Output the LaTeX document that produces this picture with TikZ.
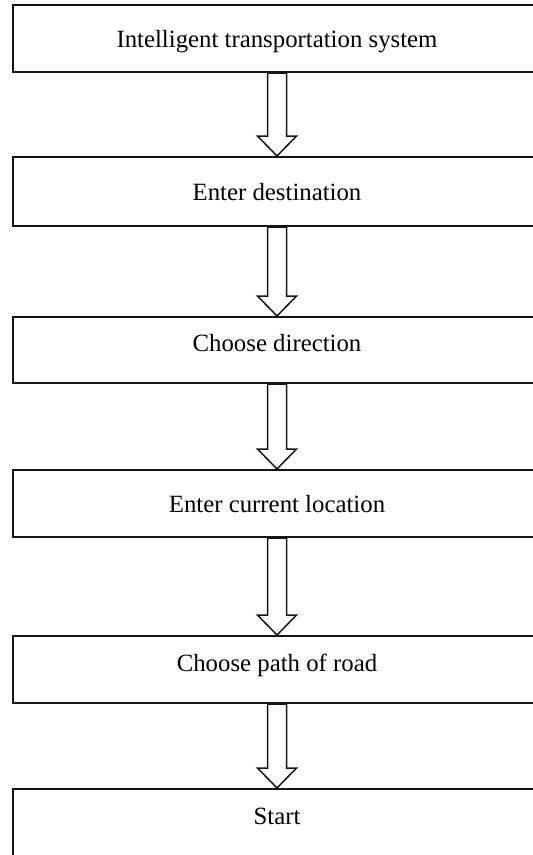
\documentclass[tikz,border=0pt]{standalone}
\usepackage{fontspec}
\setmainfont{Liberation Serif}
\usetikzlibrary{calc}
\definecolor{boxline}{RGB}{20, 20, 20}

\begin{document}
\begin{tikzpicture}[x=1pt, y=-1pt,
		stagebox/.style={draw=boxline, line width=2pt, minimum width=528pt, inner sep=0pt, text height=17pt, text depth=0pt, font=\fontsize{24.8}{30}\selectfont},
		flowarrow/.style={draw=boxline, line width=1.5pt, line join=miter, to path={let \p1=(\tikztostart), \p2=(\tikztotarget) in (\x1-9.5pt,\y1) -- (\x1-9.5pt,\y2+20pt) -- (\x1-19.5pt,\y2+20pt) -- (\x1,\y2) -- (\x1+19.5pt,\y2+20pt) -- (\x1+9.5pt,\y2+20pt) -- (\x1+9.5pt,\y1) -- cycle}}]
			\useasboundingbox (0,0) rectangle (533,855);
			\node[stagebox, minimum height=67pt] (system) at (277,38.5) {Intelligent transportation system};
			\node[stagebox, minimum height=69pt] (destination) at (277,191.5) {Enter destination};
			\node[stagebox, minimum height=66pt, text depth=14pt] (direction) at (277,350) {Choose direction};
			\node[stagebox, minimum height=67pt] (location) at (277,503.5) {Enter current location};
			\node[stagebox, minimum height=67pt, text depth=13pt] (road) at (277,669.5) {Choose path of road};
			\node[stagebox, minimum height=70pt, text depth=16pt] (start) at (277,824) {Start};
			\foreach \a/\b in {system/destination, destination/direction, direction/location, location/road, road/start}
				\draw[flowarrow] (\a.south) to (\b.north);
		\end{tikzpicture}
\end{document}
